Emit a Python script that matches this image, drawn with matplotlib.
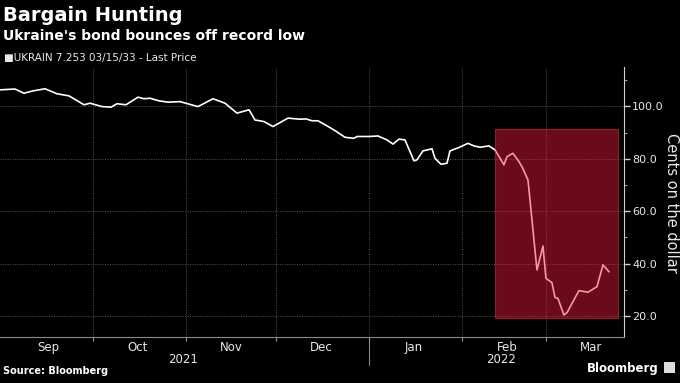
import pandas as pd
import numpy as np
import matplotlib
matplotlib.use('Agg')
import matplotlib.pyplot as plt
import matplotlib.dates as mdates
import matplotlib.transforms as mtransforms
from matplotlib.patches import Rectangle

# UKRAIN 7.253 03/15/33 - Last Price (cents on the dollar)
dates = ['2021-08-31', '2021-09-05', '2021-09-08', '2021-09-11', '2021-09-15', '2021-09-19',
         '2021-09-23', '2021-09-28', '2021-09-30', '2021-10-04', '2021-10-07', '2021-10-09',
         '2021-10-12', '2021-10-16', '2021-10-18', '2021-10-20', '2021-10-23', '2021-10-26',
         '2021-10-30', '2021-11-05', '2021-11-10', '2021-11-14', '2021-11-18', '2021-11-22',
         '2021-11-24', '2021-11-27', '2021-11-30', '2021-12-05', '2021-12-09', '2021-12-11',
         '2021-12-13', '2021-12-15', '2021-12-19', '2021-12-21', '2021-12-24', '2021-12-27',
         '2021-12-28', '2022-01-01', '2022-01-04', '2022-01-07', '2022-01-09', '2022-01-11',
         '2022-01-13', '2022-01-16', '2022-01-17', '2022-01-19', '2022-01-22', '2022-01-23',
         '2022-01-25', '2022-01-27', '2022-01-28', '2022-01-31', '2022-02-03', '2022-02-05',
         '2022-02-07', '2022-02-10', '2022-02-12', '2022-02-15', '2022-02-16', '2022-02-18',
         '2022-02-20', '2022-02-21', '2022-02-23', '2022-02-24', '2022-02-25', '2022-02-26',
         '2022-02-28', '2022-03-01', '2022-03-03', '2022-03-04', '2022-03-05', '2022-03-07',
         '2022-03-08', '2022-03-12', '2022-03-15', '2022-03-18', '2022-03-20', '2022-03-21',
         '2022-03-22']
price = [106.3, 106.6, 105.0, 105.9, 106.7, 104.8,
         104.0, 100.6, 101.2, 99.9, 99.7, 101.0,
         100.6, 103.5, 102.9, 103.1, 102.1, 101.6,
         101.8, 99.9, 102.9, 101.2, 97.4, 98.7,
         94.8, 94.2, 92.3, 95.5, 95.1, 95.2,
         94.5, 94.5, 91.9, 90.5, 88.2, 87.8,
         88.5, 88.5, 88.7, 87.2, 85.6, 87.5,
         87.2, 79.2, 79.6, 83.0, 83.8, 80.2,
         77.9, 78.3, 83.0, 84.3, 85.9, 84.9,
         84.4, 84.9, 83.4, 77.7, 80.8, 82.1,
         78.9, 77.0, 71.9, 60.5, 49.0, 37.6,
         46.7, 34.4, 32.7, 27.1, 26.7, 20.4,
         21.3, 29.7, 29.1, 31.2, 39.5, 38.2,
         36.9]

# highlighted window
box_start, box_end = '2022-02-12', '2022-03-25'
box_low, box_high = 19.2, 91.4

yticks = [20, 40, 60, 80, 100]

dates = pd.to_datetime(dates)

fg = '#e8e8e8'
fig = plt.figure(figsize=(6.8, 3.83), dpi=100, facecolor='black')
ax = fig.add_axes([0.0, 0.12, 0.9176, 0.705])
ax.set_facecolor('black')

ax.plot(dates, price, color='white', lw=1.2, zorder=3)

x0 = mdates.date2num(pd.Timestamp(box_start))
x1 = mdates.date2num(pd.Timestamp(box_end))
ax.add_patch(Rectangle((x0, box_low), x1 - x0, box_high - box_low,
                       facecolor=(0.93, 0.10, 0.24), alpha=0.45,
                       edgecolor=(0.95, 0.25, 0.35), lw=0.8, zorder=4))

ax.set_xlim(pd.Timestamp('2021-08-31'), pd.Timestamp('2022-03-27'))
ax.set_ylim(12, 115)

# y axis on the right
ax.yaxis.tick_right()
ax.set_yticks(yticks)
ax.set_yticks([30, 50, 70, 90, 110], minor=True)
ax.yaxis.set_major_formatter(matplotlib.ticker.FormatStrFormatter('%.1f'))
ax.tick_params(axis='y', which='major', colors='#cfcfcf', labelcolor=fg,
               length=4, width=1, labelsize=8, pad=2)
ax.tick_params(axis='y', which='minor', colors='#9a9a9a', length=2.5, width=0.8)
fig.text(0.977, 0.471, 'Cents on the dollar', rotation=270, color=fg, fontsize=10.5,
         ha='left', va='center')

# x axis: month boundaries as ticks, labels in mid-month
ax.xaxis.set_major_locator(mdates.MonthLocator(bymonth=[10, 11, 12, 1, 2, 3]))
ax.xaxis.set_major_formatter(matplotlib.ticker.NullFormatter())
ax.xaxis.set_minor_locator(mdates.MonthLocator(bymonthday=16))
ax.xaxis.set_minor_formatter(mdates.DateFormatter('%b'))
ax.tick_params(axis='x', which='major', colors='#9a9a9a', length=3, width=0.8)
ax.tick_params(axis='x', which='minor', length=0, labelcolor=fg, labelsize=8.5, pad=3)

ax.grid(True, which='major', color='#555555', linestyle=(0, (1, 1.5)), lw=0.7)

for s in ['top', 'left']:
    ax.spines[s].set_visible(False)
ax.spines['right'].set_color('#d0d0d0')
ax.spines['bottom'].set_color('#8a8a8a')

# year row
trans = mtransforms.blended_transform_factory(ax.transData, ax.transAxes)
ax.text(pd.Timestamp('2021-10-31'), -0.085, '2021', transform=trans, ha='center', va='center',
        color=fg, fontsize=8.5)
ax.text(pd.Timestamp('2022-02-14'), -0.085, '2022', transform=trans, ha='center', va='center',
        color=fg, fontsize=8.5)
ax.plot([pd.Timestamp('2022-01-01')] * 2, [-0.012, -0.105], transform=trans,
        color='#8a8a8a', lw=0.8, clip_on=False)

# titles and notes
fig.text(0.004, 0.985, 'Bargain Hunting', color='white', fontsize=14, fontweight='bold',
         va='top', ha='left')
fig.text(0.004, 0.925, "Ukraine's bond bounces off record low", color='white', fontsize=10,
         fontweight='bold', va='top', ha='left')
fig.text(0.006, 0.848, '\u25a0UKRAIN 7.253 03/15/33 - Last Price', color=fg, fontsize=7.5,
         va='center', ha='left')
fig.text(0.004, 0.018, 'Source: Bloomberg', color='white', fontsize=7, fontweight='bold',
         va='bottom', ha='left')
fig.text(0.968, 0.02, 'Bloomberg', color='white', fontsize=8.5, fontweight='bold',
         va='bottom', ha='right')
fig.patches.append(Rectangle((0.976, 0.026), 0.017, 0.03, transform=fig.transFigure,
                             facecolor='#dddddd', edgecolor='none'))

fig.savefig('out.png', dpi=100, facecolor='black')
